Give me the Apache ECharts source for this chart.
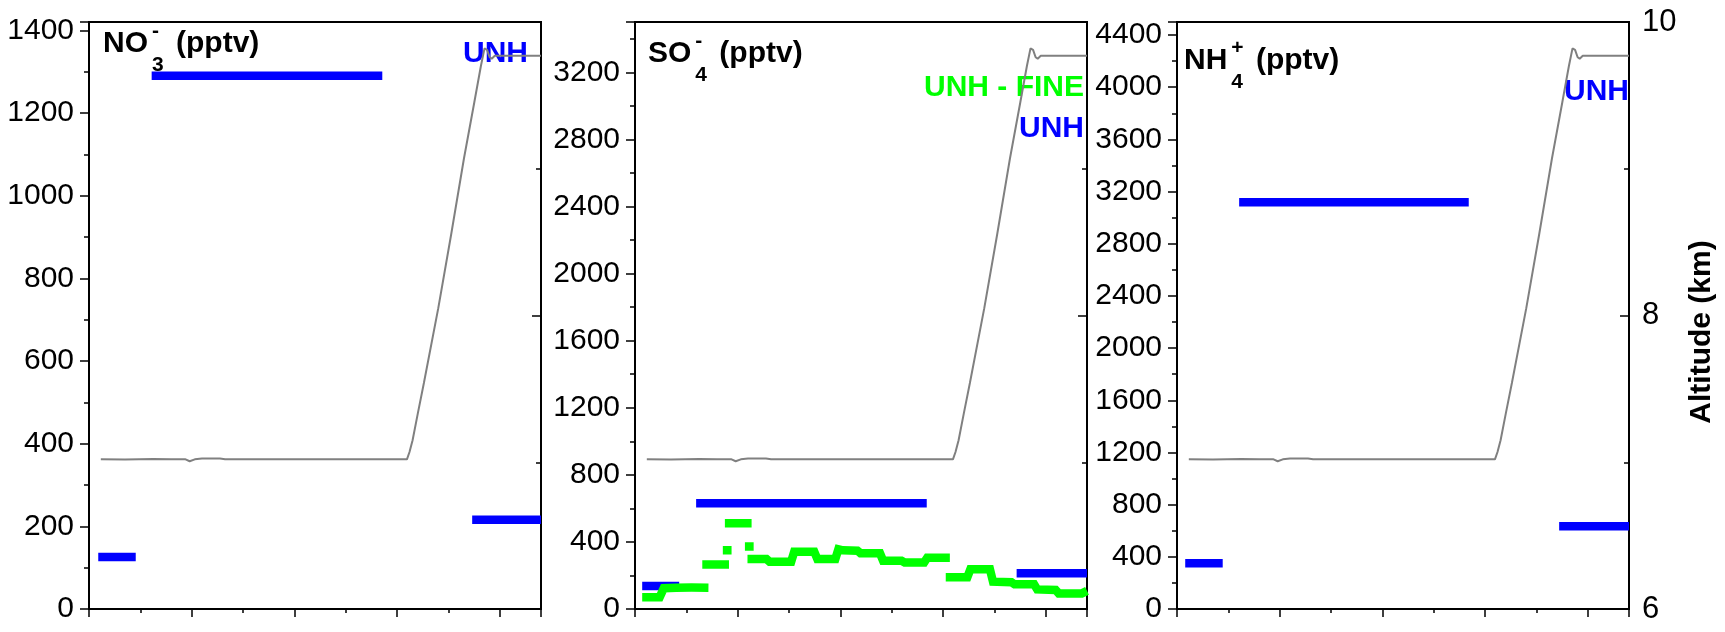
<!DOCTYPE html>
<html>
<head>
<meta charset="utf-8">
<title>Aerosol ions and altitude</title>
<script src="https://cdn.jsdelivr.net/npm/echarts@6/dist/echarts.min.js"></script>
<style>
  html, body { margin: 0; padding: 0; background: #ffffff; }
  #chart { width: 1725px; height: 632px; }
</style>
</head>
<body>
<div id="chart"></div>
<script>
// Shared flight-time axis (arbitrary time units)
const timeScale = [0, 8.8, 2];

// Left-axis scales: [min, max, major step] in pptv
const no3Scale = [0, 1420, 200];
const so4Scale = [0, 3500, 400];
const nh4Scale = [0, 4500, 400];

// Right-axis altitude scale: [min, max, major step] in km
const altScale = [6, 10, 2];

// Aircraft altitude (km) against time
const altitudeKm = [
  [0.23, 7.02], [0.70, 7.018], [1.25, 7.022], [1.60, 7.02], [1.88, 7.02],
  [1.96, 7.007], [2.06, 7.02], [2.20, 7.026], [2.55, 7.025], [2.65, 7.02],
  [3.50, 7.02], [4.50, 7.02], [5.50, 7.02], [6.19, 7.02], [6.24, 7.07],
  [6.30, 7.15], [6.40, 7.33], [6.52, 7.54], [6.80, 8.05], [7.05, 8.55],
  [7.30, 9.07], [7.50, 9.45], [7.63, 9.70], [7.70, 9.82], [7.75, 9.81],
  [7.80, 9.76], [7.84, 9.75], [7.90, 9.77], [8.80, 9.77]
];

// UNH filter averages: [start time, end time, mixing ratio in pptv]
const no3Unh = [[0.18, 0.91, 126], [1.22, 5.71, 1290], [7.46, 8.8, 216]];
const so4Unh = [[0.14, 0.86, 137], [1.19, 5.68, 630], [7.43, 8.8, 213]];
const nh4Unh = [[0.16, 0.89, 350], [1.21, 5.68, 3118], [7.44, 8.8, 635]];

// UNH fine sulfate, continuous pieces of [time, pptv]
const so4Fine = [
  [[0.14, 70], [0.48, 70], [0.56, 124], [0.80, 127], [1.10, 128], [1.43, 127]],
  [[1.31, 266], [1.83, 266]],
  [[1.71, 350], [1.88, 350]],
  [[1.75, 511], [2.27, 511]],
  [[2.14, 372], [2.31, 372]],
  [[2.19, 298], [2.56, 298], [2.62, 282], [3.04, 282], [3.10, 342], [3.49, 342],
   [3.55, 298], [3.90, 298], [3.96, 356], [4.05, 350], [4.33, 348], [4.39, 332],
   [4.77, 332], [4.83, 288], [5.19, 288], [5.25, 278], [5.63, 278], [5.69, 306],
   [6.13, 306]],
  [[6.05, 189], [6.47, 189], [6.53, 237], [6.91, 237], [6.97, 163], [7.33, 160],
   [7.39, 147], [7.77, 147], [7.83, 117], [8.19, 113], [8.25, 93], [8.70, 93],
   [8.80, 108]]
];

const FONT = '"Liberation Sans", Arial, Helvetica, sans-serif';
const BLUE = '#0000ff';
const GREEN = '#00ff00';
const GREY = '#808080';

const panelLeft = [89, 635, 1177];
const panelWidth = 452;
const panelTop = 22;
const panelHeight = 587;
const scales = [no3Scale, so4Scale, nh4Scale];
const unhBars = [no3Unh, so4Unh, nh4Unh];

const grids = [], xAxes = [], yAxes = [], series = [];

const axisLineStyle = { color: '#000', width: 2 };
const tickLineStyle = { color: '#000', width: 1.5 };
const plainNumber = v => String(v);

panelLeft.forEach((left, i) => {
  grids.push({
    left: left, top: panelTop, width: panelWidth, height: panelHeight,
    show: true, borderColor: '#000', borderWidth: 2, backgroundColor: 'transparent',
    containLabel: false
  });

  xAxes.push({
    type: 'value', gridIndex: i, min: timeScale[0], max: timeScale[1], interval: timeScale[2],
    axisLine: { show: true, onZero: false, lineStyle: axisLineStyle },
    axisTick: { show: true, length: 8, lineStyle: tickLineStyle },
    minorTick: { show: true, splitNumber: 2, length: 4, lineStyle: tickLineStyle },
    axisLabel: { show: false },
    splitLine: { show: false }
  });

  const s = scales[i];
  yAxes.push({
    type: 'value', gridIndex: i, position: 'left', min: s[0], max: s[1], interval: s[2],
    axisLine: { show: true, onZero: false, lineStyle: axisLineStyle },
    axisTick: { show: true, length: 9, lineStyle: tickLineStyle },
    minorTick: { show: true, splitNumber: 2, length: 5, lineStyle: tickLineStyle },
    axisLabel: {
      fontSize: 30, fontFamily: FONT, color: '#000', margin: 15,
      showMaxLabel: false, formatter: plainNumber
    },
    splitLine: { show: false }
  });

  const last = i === panelLeft.length - 1;
  yAxes.push({
    type: 'value', gridIndex: i, position: 'right',
    min: altScale[0], max: altScale[1], interval: altScale[2],
    axisLine: { show: true, onZero: false, lineStyle: axisLineStyle },
    axisTick: { show: true, inside: true, length: 9, lineStyle: tickLineStyle },
    minorTick: { show: true, splitNumber: 2, length: 5, lineStyle: tickLineStyle },
    axisLabel: {
      show: last, fontSize: 31, fontFamily: FONT, color: '#000', margin: 13,
      formatter: plainNumber
    },
    splitLine: { show: false }
  });

  // altitude trace on the right axis
  series.push({
    type: 'line', xAxisIndex: i, yAxisIndex: 2 * i + 1, data: altitudeKm,
    symbol: 'none', silent: true, z: 3,
    lineStyle: { color: GREY, width: 2 }
  });

  // UNH averages as horizontal bars
  unhBars[i].forEach(b => {
    series.push({
      type: 'line', xAxisIndex: i, yAxisIndex: 2 * i,
      data: [[b[0], b[2]], [b[1], b[2]]],
      symbol: 'none', silent: true, z: 4,
      lineStyle: { color: BLUE, width: 8.5, cap: 'butt' }
    });
  });
});

// fine sulfate pieces, drawn over the blue averages
so4Fine.forEach(piece => {
  series.push({
    type: 'line', xAxisIndex: 1, yAxisIndex: 2, data: piece,
    symbol: 'none', silent: true, z: 5,
    lineStyle: { color: GREEN, width: 8.5, cap: 'butt', join: 'miter' }
  });
});

// text measuring for the species labels
const measureCtx = document.createElement('canvas').getContext('2d');
function textWidth(str, size, weight) {
  measureCtx.font = weight + ' ' + size + 'px ' + FONT;
  return measureCtx.measureText(str).width;
}

function textEl(str, x, y, size, color, align, rotation) {
  return {
    type: 'text', x: x, y: y, z: 1, silent: true, rotation: rotation || 0,
    style: {
      text: str, fill: color,
      font: 'bold ' + size + 'px ' + FONT,
      textAlign: align || 'left', textVerticalAlign: 'middle',
      align: align || 'left', verticalAlign: 'middle'
    }
  };
}

// "NO3- (pptv)" style label with stacked superscript and subscript
function speciesLabel(x, y, base, sup, sub) {
  const big = 30, small = 21;
  const wBase = textWidth(base, big, 'bold');
  const xs = x + wBase + 4;
  const wSmall = Math.max(textWidth(sup, small, 'bold'), textWidth(sub, small, 'bold'));
  const xp = xs + wSmall + textWidth(' ', big, 'bold') + 4;
  return [
    textEl(base, x, y, big, '#000'),
    textEl(sup, xs, y - 13, small, '#000'),
    textEl(sub, xs, y + 21, small, '#000'),
    textEl('(pptv)', xp, y, big, '#000')
  ];
}

const graphics = [].concat(
  speciesLabel(103, 44, 'NO', '-', '3'),
  speciesLabel(648, 54, 'SO', '-', '4'),
  speciesLabel(1184, 61, 'NH', '+', '4'),
  [
    textEl('UNH', 463, 54, 30, BLUE),
    textEl('UNH - FINE', 1084, 88, 30, GREEN, 'right'),
    textEl('UNH', 1084, 129, 30, BLUE, 'right'),
    textEl('UNH', 1629, 92, 30, BLUE, 'right'),
    textEl('Altitude (km)', 1702, 332, 30, '#000', 'center', Math.PI / 2)
  ]
);

const chart = echarts.init(document.getElementById('chart'), null, { renderer: 'canvas' });
chart.setOption({
  animation: false,
  backgroundColor: '#ffffff',
  grid: grids,
  xAxis: xAxes,
  yAxis: yAxes,
  series: series,
  graphic: { elements: graphics }
});
</script>
</body>
</html>
